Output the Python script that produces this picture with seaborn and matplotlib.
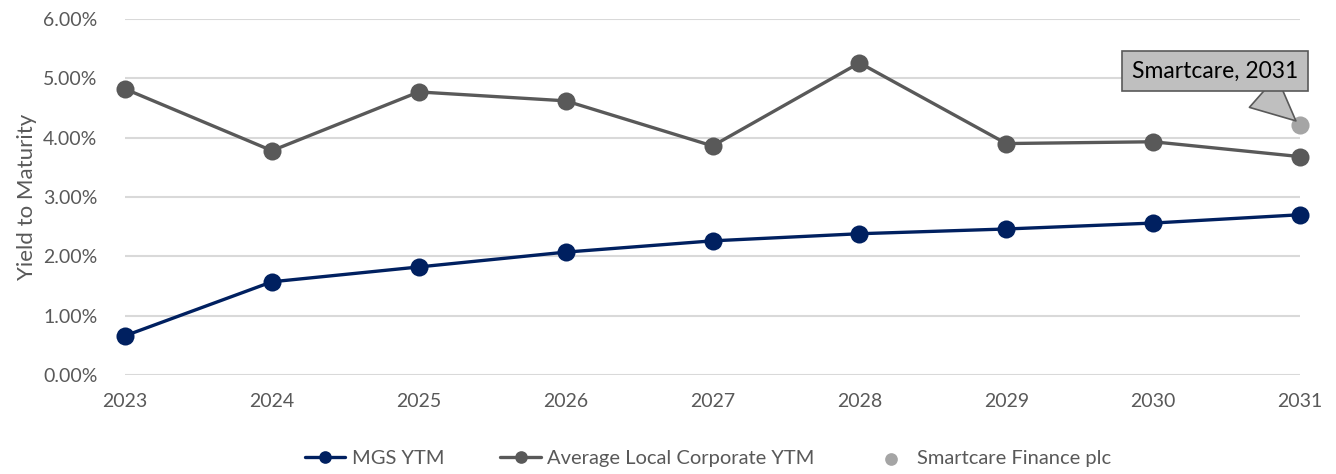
import matplotlib.pyplot as plt
import pandas as pd
import seaborn as sns
from matplotlib.ticker import FuncFormatter

# --- DATA ---
YEARS = [2023, 2024, 2025, 2026, 2027, 2028, 2029, 2030, 2031]
MGS_YTM = [0.66, 1.57, 1.82, 2.07, 2.26, 2.38, 2.46, 2.56, 2.70]
CORP_YTM = [4.82, 3.78, 4.77, 4.62, 3.86, 5.26, 3.90, 3.93, 3.68]
SMARTCARE_YEAR = [2031]
SMARTCARE_YTM = [4.22]
Y_TICKS = [0, 1, 2, 3, 4, 5, 6]

NAVY = "#002060"
DARK_GREY = "#595959"
LIGHT_GREY = "#A5A5A5"
TEXT_GREY = "#595959"

sns.set_style("white")
plt.rcParams["font.family"] = ["Lato", "DejaVu Sans"]

df = pd.DataFrame({"Year": YEARS, "MGS YTM": MGS_YTM, "Average Local Corporate YTM": CORP_YTM})
df_sc = pd.DataFrame({"Year": SMARTCARE_YEAR, "YTM": SMARTCARE_YTM})

fig = plt.figure(figsize=(13.36, 4.74), dpi=100)
ax = fig.add_axes([0.0936, 0.209, 0.8795, 0.751])

sns.lineplot(data=df, x="Year", y="MGS YTM", ax=ax, color=NAVY, linewidth=2.4,
             marker="o", markersize=13, markeredgewidth=0, label="MGS YTM", clip_on=False, zorder=3)
sns.lineplot(data=df, x="Year", y="Average Local Corporate YTM", ax=ax, color=DARK_GREY, linewidth=2.4,
             marker="o", markersize=13, markeredgewidth=0, label="Average Local Corporate YTM",
             clip_on=False, zorder=3)
sns.scatterplot(data=df_sc, x="Year", y="YTM", ax=ax, color=LIGHT_GREY, s=170, linewidth=0,
                label="Smartcare Finance plc", clip_on=False, zorder=4)

# callout box pointing at the Smartcare point
ax.annotate("Smartcare, 2031", xy=(SMARTCARE_YEAR[0], SMARTCARE_YTM[0]), xytext=(2030.42, 5.12),
            ha="center", va="center", fontsize=16.5, color="black",
            bbox=dict(boxstyle="square,pad=0.42", fc="#BFBFBF", ec=DARK_GREY, lw=1.2),
            arrowprops=dict(arrowstyle="wedge,tail_width=1.8,shrink_factor=0.5", fc="#BFBFBF",
                            ec=DARK_GREY, lw=1.2, shrinkA=0, shrinkB=4,
                            relpos=(0.72, 0.0)),
            zorder=5)

ax.set_xlim(YEARS[0], YEARS[-1])
ax.set_ylim(0, 6)
ax.set_xticks(YEARS)
ax.set_yticks(Y_TICKS)
ax.yaxis.set_major_formatter(FuncFormatter(lambda v, _: f"{v:.2f}%"))
ax.grid(axis="y", color="#D9D9D9", linewidth=1.5)
ax.set_axisbelow(True)
for s in ax.spines.values():
    s.set_visible(False)
ax.tick_params(axis="both", length=0, labelsize=14, labelcolor=TEXT_GREY)
ax.tick_params(axis="x", pad=13)
ax.tick_params(axis="y", pad=20)
ax.set_xlabel("")
ax.set_ylabel("Yield to Maturity", fontsize=16, color=TEXT_GREY, labelpad=4)

handles, labels = ax.get_legend_handles_labels()
ax.legend_.remove()
fig.legend(handles, labels, loc="center", bbox_to_anchor=(0.53, 0.032), ncol=3, frameon=False,
           fontsize=14.5, labelcolor=TEXT_GREY, handlelength=2.0, handletextpad=0.3, columnspacing=2.8,
           markerscale=0.7)

fig.savefig("out.png", dpi=100)
